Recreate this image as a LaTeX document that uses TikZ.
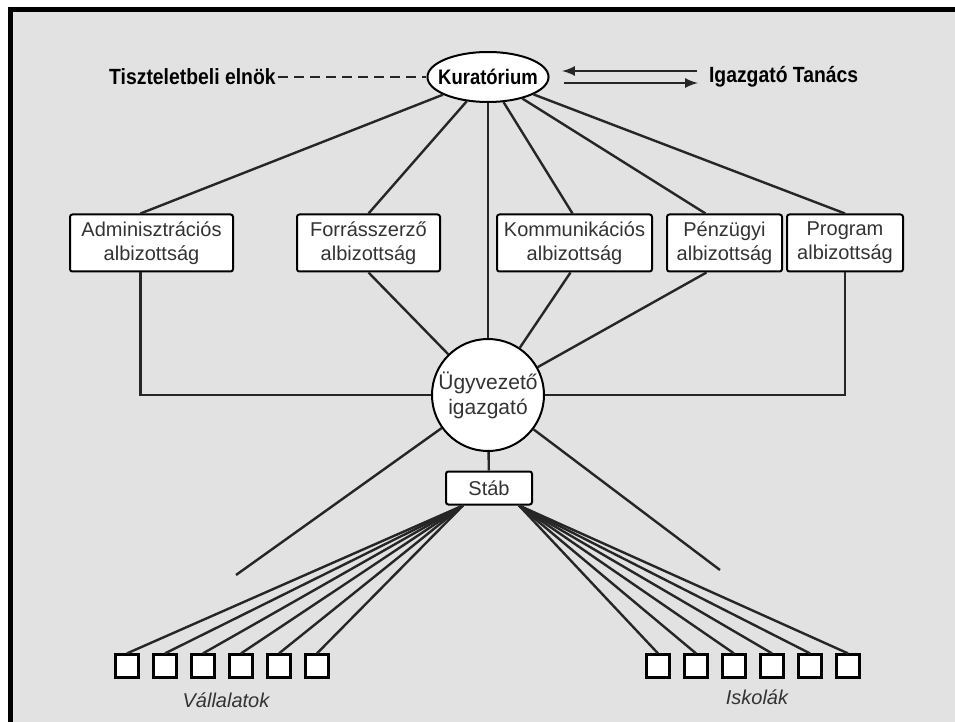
\documentclass[tikz,border=0pt]{standalone}
\usepackage{fontspec}
\setmainfont{Liberation Sans}
\newfontfamily\narrowfont[FakeStretch=0.88]{Liberation Sans}
\usepackage{xcolor}
\usetikzlibrary{shapes.geometric}
\usetikzlibrary{calc}
\definecolor{lapgray}{HTML}{E2E2E2}
\definecolor{inkgray}{HTML}{333333}

\begin{document}
\begin{tikzpicture}[x=0.5pt,y=-0.5pt,
    vonal/.style={line width=1.2pt,black!85},
    toplabel/.style={font=\narrowfont\fontsize{11}{13}\selectfont\bfseries},
    albiz/.style={draw,fill=white,line width=1pt,rounded corners=1.2pt,align=center,
        minimum height=28.5pt,inner sep=1pt,text=inkgray,
        font=\fontsize{10}{12}\selectfont},
    kicsi/.style={draw,fill=white,line width=1.1pt,minimum size=11.5pt,inner sep=0pt},
    csoport/.style={text=inkgray,font=\fontsize{10}{12}\selectfont\itshape}]
        \useasboundingbox (0,0) rectangle (955,722);
        \fill[white] (0,0) rectangle (955,722);
        \fill[lapgray] (10,10) rectangle (955,722);
        \draw[line width=2.5pt] (10,722) -- (10,10) -- (955,10);

        \node[draw,ellipse,fill=white,line width=1pt,minimum height=25pt,
            inner xsep=-3.5pt,inner ysep=0pt,
            font=\narrowfont\fontsize{10.5}{12}\selectfont\bfseries] (kur) at (488,77) {Kuratórium};
        \node[toplabel,anchor=east,inner sep=1pt] (tisz) at (278,77) {Tiszteletbeli elnök};
        \node[toplabel,anchor=west] (igt) at (702,77) {Igazgató Tanács};
        \draw[vonal,dashed,dash pattern=on 5pt off 3pt] (tisz) -- (kur);
        \coordinate (ny1) at (697,71);
        \coordinate (ny2) at (562,71);
        \coordinate (ny3) at (564,83);
        \coordinate (ny4) at (698,83);
        \draw[vonal,-latex] (ny1) -- (ny2);
        \draw[vonal,-latex] (ny3) -- (ny4);

        \node[albiz,minimum width=81.5pt] (adm) at (151.5,243) {Adminisztrációs\\albizottság};
        \node[albiz,minimum width=71.5pt] (for) at (368.5,243) {Forrásszerző\\albizottság};
        \node[albiz,minimum width=77.5pt] (kom) at (574.5,243) {Kommunikációs\\albizottság};
        \node[albiz,minimum width=57.5pt] (pen) at (724.5,243) {Pénzügyi\\albizottság};
        \node[albiz,minimum width=58pt] (prg) at (845,243) {Program\\albizottság};

        \node[draw,circle,fill=white,line width=1pt,minimum size=56pt,inner sep=0pt,align=center,
            text=inkgray,font=\fontsize{10.5}{12.5}\selectfont] (ugy) at (488,395) {Ügyvezető\\igazgató};
        \node[albiz,minimum width=43pt,minimum height=16.5pt] (stab) at (489,488) {Stáb};

        \draw[vonal] (kur) -- ([xshift=-5.5pt]adm.north);
        \draw[vonal] (kur) -- (for.north);
        \draw[vonal] (kur) -- (ugy);
        \draw[vonal] (kur) -- ([xshift=-1pt]kom.north);
        \draw[vonal] (kur) -- ([xshift=-9.5pt]pen.north);
        \draw[vonal] (kur) -- (prg.north);

        \draw[vonal] ([xshift=-5.5pt]adm.south) |- (ugy.west);
        \draw[vonal] (prg.south) |- (ugy.east);
        \draw[vonal] (for.south) -- (ugy);
        \draw[vonal] ([xshift=-2pt]kom.south) -- (ugy);
        \draw[vonal] ([xshift=-9pt]pen.south) -- (ugy);
        \draw[vonal] (ugy) -- (stab);

        \coordinate (balveg) at (236,575);
        \coordinate (jobbveg) at (720,570);
        \draw[vonal] (ugy) -- (balveg);
        \draw[vonal] (ugy) -- (jobbveg);

        \coordinate (balto) at ($(stab.south)+(-13pt,0)$);
        \coordinate (jobbto) at ($(stab.south)+(15pt,0)$);
        \foreach \i in {0,...,5}{
            \node[kicsi] (v\i) at ({127+38*\i},666) {};
            \node[kicsi] (s\i) at ({658+38*\i},666) {};
            \draw[vonal] (balto) -- (v\i.north);
            \draw[vonal] (jobbto) -- (s\i.north);
        }
        \node[csoport] (vall) at (226,700) {Vállalatok};
        \node[csoport] (isk) at (757,697) {Iskolák};
    \end{tikzpicture}
\end{document}
